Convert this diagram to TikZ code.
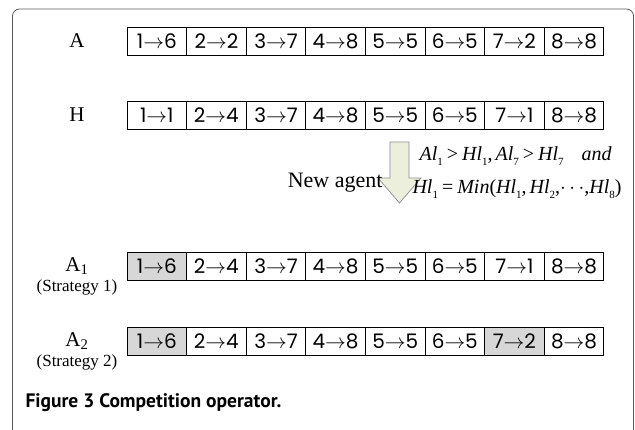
\documentclass[tikz,border=0pt]{standalone}
\usepackage{fontspec}
\setmainfont{Liberation Serif}
\newfontfamily\cellfont{Poppins}
\newfontfamily\capfont{PT Sans}
\usepackage{tikz}
\usetikzlibrary{positioning}

\definecolor{arrowfill}{RGB}{236,239,220}
\definecolor{hitgray}{RGB}{215,215,215}
\newcommand{\vr}[2]{\textit{#1}\raisebox{-0.25em}{\fontsize{11}{11}\selectfont #2}}
\newcommand{\rel}[1]{\hspace{0.2em}#1\hspace{0.2em}}
\newcommand{\cm}{,\hspace{0.15em}}

\begin{document}
\begin{tikzpicture}[x=1pt, y=-1pt,
    cell/.style={draw, minimum width=59.6pt, minimum height=28pt, inner sep=0pt, line width=0.7pt, font=\cellfont\fontsize{20}{20}\selectfont},
    hit/.style={cell, fill=hitgray},
    rowlab/.style={font=\fontsize{21}{21}\selectfont},
    strat/.style={font=\fontsize{17}{17}\selectfont},
    cond/.style={font=\fontsize{20}{20}\selectfont, anchor=west},
    blockarrow/.style={draw=black!45, fill=arrowfill, line width=0.7pt, line join=miter}
]
\useasboundingbox (0,0) rectangle (635,429);
\clip (0,0) rectangle (635,429);
% frame
\draw[black!65, line width=0.8pt, rounded corners=7pt] (12.5,440) -- (12.5,9) -- (633.5,9) -- (633.5,440);

% agent A
\node[rowlab] (labA) at (77,41) {A};
\foreach \v [count=\i] in {6,2,7,8,5,5,2,8}
  \node[cell] (a\i) at ({127+59.6*(\i-0.5)},41) {\i$\rightarrow$\v};

% agent H
\node[rowlab] (labH) at (77,115) {H};
\foreach \v [count=\i] in {1,4,7,8,5,5,1,8}
  \node[cell] (h\i) at ({127+59.6*(\i-0.5)},115) {\i$\rightarrow$\v};

% new agent
\draw[blockarrow] (390,142) -- (409,142) -- (409,178) -- (421,178) -- (399.5,203) -- (378,178) -- (390,178) -- cycle;
\node[font=\fontsize{22}{22}\selectfont, anchor=east] (newag) at (386,183) {New agent};
\node[cond] (cond1) at (416,156) {\vr{Al}{1}\rel{>}\vr{Hl}{1}\cm\vr{Al}{7}\rel{>}\vr{Hl}{7}\hspace{0.9em}\textit{and}};
\node[cond] (cond2) at (409,189) {\vr{Hl}{1}\rel{=}\textit{Min}(\vr{Hl}{1}\cm\vr{Hl}{2},$\cdots$,\vr{Hl}{8})};

% strategy 1
\node[rowlab] (labS) at (77,266) {A\textsubscript{1}};
\node[strat, below=-2pt of labS] (st1) {(Strategy 1)};
\foreach \v/\s [count=\i] in {6/hit,4/cell,7/cell,8/cell,5/cell,5/cell,1/cell,8/cell}
  \node[\s] (s\i) at ({127+59.6*(\i-0.5)},266) {\i$\rightarrow$\v};

% strategy 2
\node[rowlab] (labT) at (77,341) {A\textsubscript{2}};
\node[strat, below=-2pt of labT] (st2) {(Strategy 2)};
\foreach \v/\s [count=\i] in {6/hit,4/cell,7/cell,8/cell,5/cell,5/cell,2/hit,8/cell}
  \node[\s] (t\i) at ({127+59.6*(\i-0.5)},341) {\i$\rightarrow$\v};

\node[anchor=west, font=\capfont\bfseries\fontsize{19.5}{19.5}\selectfont] (cap) at (22,403) {Figure 3 Competition operator.};
\end{tikzpicture}
\end{document}
